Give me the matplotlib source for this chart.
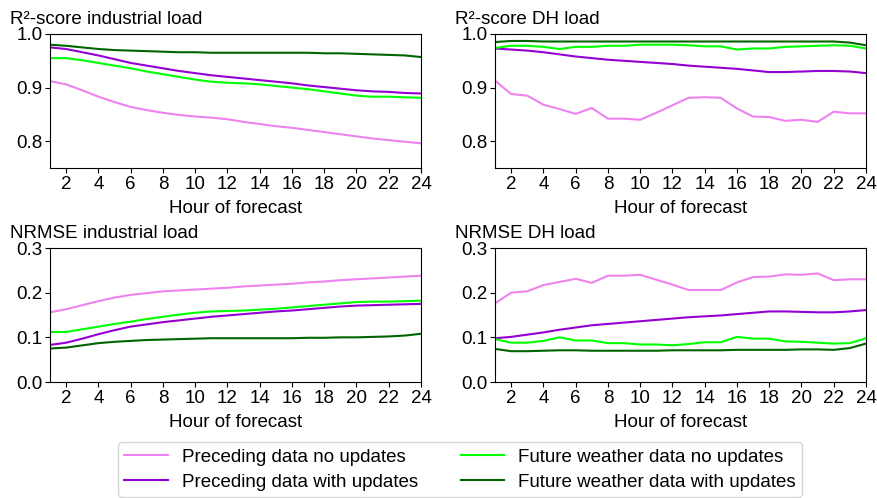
import matplotlib
matplotlib.use("Agg")
import matplotlib.pyplot as plt
import numpy as np

plt.rcParams['font.family'] = ['Liberation Sans', 'DejaVu Sans']

hours = list(range(1, 25))

# R2 industrial
r2_ind_prec_no = [0.912, 0.906, 0.895, 0.883, 0.873, 0.864, 0.858, 0.853, 0.849, 0.846, 0.844, 0.841, 0.836, 0.832, 0.828, 0.825, 0.821, 0.817, 0.813, 0.809, 0.805, 0.802, 0.799, 0.796]
r2_ind_prec_up = [0.975, 0.972, 0.966, 0.960, 0.953, 0.946, 0.941, 0.936, 0.931, 0.927, 0.923, 0.920, 0.917, 0.914, 0.911, 0.908, 0.904, 0.901, 0.898, 0.895, 0.893, 0.892, 0.890, 0.889]
r2_ind_fut_no = [0.955, 0.955, 0.951, 0.946, 0.941, 0.936, 0.930, 0.925, 0.920, 0.915, 0.911, 0.909, 0.908, 0.906, 0.903, 0.900, 0.897, 0.893, 0.889, 0.885, 0.883, 0.883, 0.882, 0.881]
r2_ind_fut_up = [0.980, 0.978, 0.975, 0.972, 0.970, 0.969, 0.968, 0.967, 0.966, 0.966, 0.965, 0.965, 0.965, 0.965, 0.965, 0.965, 0.965, 0.964, 0.964, 0.963, 0.962, 0.961, 0.960, 0.957]

# R2 DH
r2_dh_prec_no = [0.913, 0.888, 0.885, 0.868, 0.860, 0.851, 0.862, 0.842, 0.842, 0.840, 0.853, 0.867, 0.881, 0.882, 0.881, 0.861, 0.846, 0.845, 0.838, 0.840, 0.836, 0.855, 0.852, 0.852]
r2_dh_prec_up = [0.973, 0.971, 0.969, 0.966, 0.962, 0.958, 0.955, 0.952, 0.950, 0.948, 0.946, 0.944, 0.941, 0.939, 0.937, 0.935, 0.932, 0.929, 0.929, 0.930, 0.931, 0.931, 0.930, 0.927]
r2_dh_fut_no = [0.974, 0.978, 0.978, 0.976, 0.972, 0.976, 0.976, 0.978, 0.978, 0.980, 0.980, 0.980, 0.979, 0.977, 0.977, 0.971, 0.973, 0.973, 0.976, 0.977, 0.978, 0.979, 0.978, 0.973]
r2_dh_fut_up = [0.985, 0.987, 0.987, 0.986, 0.986, 0.986, 0.986, 0.986, 0.986, 0.986, 0.986, 0.986, 0.986, 0.986, 0.986, 0.986, 0.986, 0.986, 0.986, 0.986, 0.986, 0.986, 0.984, 0.979]

# NRMSE industrial
nr_ind_prec_no = [0.156, 0.163, 0.172, 0.181, 0.189, 0.195, 0.199, 0.203, 0.205, 0.207, 0.209, 0.211, 0.214, 0.216, 0.218, 0.220, 0.223, 0.225, 0.228, 0.230, 0.232, 0.234, 0.236, 0.238]
nr_ind_prec_up = [0.083, 0.088, 0.097, 0.107, 0.116, 0.124, 0.129, 0.134, 0.138, 0.142, 0.146, 0.149, 0.152, 0.155, 0.158, 0.160, 0.163, 0.166, 0.169, 0.171, 0.172, 0.173, 0.174, 0.175]
nr_ind_fut_no = [0.112, 0.112, 0.118, 0.124, 0.130, 0.135, 0.141, 0.146, 0.151, 0.155, 0.158, 0.159, 0.160, 0.162, 0.164, 0.167, 0.170, 0.173, 0.176, 0.179, 0.180, 0.180, 0.181, 0.182]
nr_ind_fut_up = [0.075, 0.077, 0.082, 0.087, 0.090, 0.092, 0.094, 0.095, 0.096, 0.097, 0.098, 0.098, 0.098, 0.098, 0.098, 0.098, 0.099, 0.099, 0.100, 0.100, 0.101, 0.102, 0.104, 0.108]

# NRMSE DH
nr_dh_prec_no = [0.176, 0.200, 0.203, 0.217, 0.224, 0.231, 0.222, 0.238, 0.238, 0.240, 0.229, 0.218, 0.206, 0.206, 0.206, 0.223, 0.235, 0.236, 0.241, 0.240, 0.243, 0.228, 0.230, 0.230]
nr_dh_prec_up = [0.098, 0.101, 0.106, 0.111, 0.117, 0.122, 0.127, 0.130, 0.133, 0.136, 0.139, 0.142, 0.145, 0.147, 0.149, 0.152, 0.155, 0.158, 0.158, 0.157, 0.156, 0.156, 0.158, 0.161]
nr_dh_fut_no = [0.096, 0.088, 0.088, 0.092, 0.100, 0.093, 0.093, 0.087, 0.087, 0.084, 0.084, 0.082, 0.085, 0.089, 0.089, 0.101, 0.097, 0.097, 0.091, 0.090, 0.088, 0.086, 0.087, 0.098]
nr_dh_fut_up = [0.074, 0.069, 0.069, 0.070, 0.071, 0.071, 0.070, 0.070, 0.070, 0.070, 0.070, 0.071, 0.071, 0.071, 0.071, 0.072, 0.072, 0.072, 0.072, 0.073, 0.073, 0.072, 0.076, 0.086]

labels = ["Preceding data no updates", "Preceding data with updates",
          "Future weather data no updates", "Future weather data with updates"]
colors = ["violet", "darkviolet", "lime", "darkgreen"]

titles = ["R²-score industrial load", "R²-score DH load", "NRMSE industrial load", "NRMSE DH load"]
panels = [
    [r2_ind_prec_no, r2_ind_prec_up, r2_ind_fut_no, r2_ind_fut_up],
    [r2_dh_prec_no, r2_dh_prec_up, r2_dh_fut_no, r2_dh_fut_up],
    [nr_ind_prec_no, nr_ind_prec_up, nr_ind_fut_no, nr_ind_fut_up],
    [nr_dh_prec_no, nr_dh_prec_up, nr_dh_fut_no, nr_dh_fut_up],
]

W, H = 877, 498
fig = plt.figure(figsize=(W/100, H/100), dpi=100)

boxes = [(50, 34, 421, 168), (495, 34, 866, 168), (50, 248, 421, 382), (495, 248, 866, 382)]
title_pos = [(10, 24), (455, 24), (10, 238), (455, 238)]
fs = 13.5

handles = []
for i, (box, series, title) in enumerate(zip(boxes, panels, titles)):
    x0, y0, x1, y1 = box
    ax = fig.add_axes([x0/W, 1 - y1/H, (x1-x0)/W, (y1-y0)/H])
    hs = []
    for s, c, lab in zip(series, colors, labels):
        h, = ax.plot(hours, s, color=c, lw=1.5, label=lab)
        hs.append(h)
    if i == 0:
        handles = hs
    ax.set_xlim(1, 24)
    ax.set_xticks(range(2, 25, 2))
    if i < 2:
        ax.set_ylim(0.75, 1.0)
        ax.set_yticks([0.8, 0.9, 1.0])
    else:
        ax.set_ylim(0.0, 0.3)
        ax.set_yticks([0.0, 0.1, 0.2, 0.3])
    ax.yaxis.set_major_formatter(matplotlib.ticker.FormatStrFormatter('%.1f'))
    ax.tick_params(labelsize=fs, length=3.5, pad=2)
    ax.set_xlabel("Hour of forecast", fontsize=fs, labelpad=5)
    tx, ty = title_pos[i]
    fig.text(tx/W, 1 - ty/H, title, fontsize=fs, ha='left', va='baseline')

leg = fig.legend(handles, labels, loc='lower center', bbox_to_anchor=(460/W, 0.0),
                 ncol=2, fontsize=fs, frameon=True, handlelength=2.3, handletextpad=0.75,
                 columnspacing=2.3, borderpad=0.35, labelspacing=0.42, borderaxespad=0.05)
leg.get_frame().set_edgecolor('#cccccc')

fig.savefig("out.png", dpi=100)
